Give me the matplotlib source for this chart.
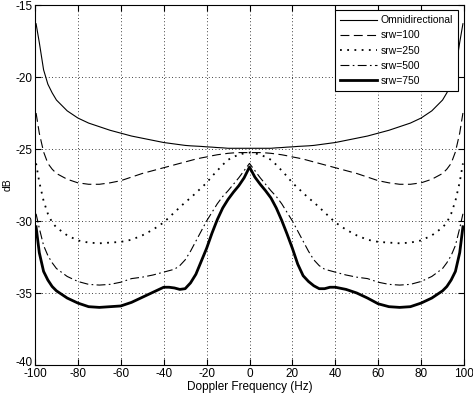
import matplotlib
matplotlib.use("Agg")
import matplotlib.pyplot as plt
import matplotlib.transforms as mtransforms

plt.rcParams['font.family'] = ['Liberation Sans', 'DejaVu Sans']
plt.rcParams['axes.unicode_minus'] = False

freq = [-99.5, -98, -96, -94, -92, -90, -85, -80, -75, -70, -65, -60, -55, -50, -45,
        -40, -37.5, -35, -32.5, -30, -27.5, -25, -22.5, -20, -17.5, -15, -12.5, -10,
        -7.5, -5, -2.5, 0,
        2.5, 5, 7.5, 10, 12.5, 15, 17.5, 20, 22.5, 25, 27.5, 30, 32.5, 35, 37.5, 40,
        45, 50, 55, 60, 65, 70, 75, 80, 85, 90, 92, 94, 96, 98, 99.5]

omni = [-16.3, -17.6, -19.5, -20.5, -21.1, -21.6, -22.35, -22.85, -23.2, -23.45,
        -23.7, -23.9, -24.1, -24.25, -24.4,
        -24.55, -24.6, -24.65, -24.7, -24.75, -24.78, -24.8, -24.82, -24.85, -24.87,
        -24.9, -24.92, -24.95, -24.95, -24.95, -24.95, -24.95,
        -24.95, -24.95, -24.95, -24.95, -24.92, -24.9, -24.87, -24.85, -24.82, -24.8,
        -24.78, -24.75, -24.7, -24.65, -24.6, -24.55,
        -24.4, -24.25, -24.1, -23.9, -23.7, -23.45, -23.2, -22.85, -22.35, -21.6,
        -21.1, -20.5, -19.5, -17.6, -16.3]

srw100 = [-22.5, -23.9, -25.2, -26.0, -26.4, -26.7, -27.1, -27.35, -27.45, -27.45,
          -27.35, -27.2, -26.95, -26.7, -26.5,
          -26.3, -26.2, -26.1, -26.0, -25.9, -25.8, -25.7, -25.62, -25.55, -25.47,
          -25.4, -25.35, -25.3, -25.27, -25.25, -25.25, -25.25,
          -25.25, -25.25, -25.27, -25.3, -25.35, -25.4, -25.47, -25.55, -25.62, -25.7,
          -25.8, -25.9, -26.0, -26.1, -26.2, -26.3,
          -26.5, -26.7, -26.95, -27.2, -27.35, -27.45, -27.45, -27.35, -27.1, -26.7,
          -26.4, -26.0, -25.2, -23.9, -22.5]

srw250 = [-26.0, -27.3, -28.6, -29.5, -30.1, -30.45, -31.0, -31.35, -31.5, -31.55,
          -31.5, -31.45, -31.3, -31.0, -30.6,
          -30.1, -29.75, -29.4, -29.05, -28.7, -28.4, -28.05, -27.7, -27.35, -26.9,
          -26.5, -26.1, -25.75, -25.55, -25.4, -25.3, -25.25,
          -25.3, -25.4, -25.55, -25.75, -26.1, -26.5, -26.9, -27.35, -27.7, -28.05,
          -28.4, -28.7, -29.05, -29.4, -29.75, -30.1,
          -30.6, -31.0, -31.3, -31.45, -31.5, -31.55, -31.5, -31.35, -31.0, -30.45,
          -30.1, -29.5, -28.6, -27.3, -26.0]

srw500 = [-29.5, -30.5, -31.7, -32.4, -32.9, -33.3, -33.85, -34.2, -34.4, -34.45,
          -34.4, -34.25, -34.0, -33.9, -33.75,
          -33.55, -33.45, -33.35, -33.1, -32.7, -32.1, -31.4, -30.7, -30.0, -29.4,
          -28.8, -28.3, -27.9, -27.45, -27.0, -26.5, -26.0,
          -26.5, -27.0, -27.45, -27.9, -28.3, -28.8, -29.4, -30.0, -30.7, -31.4,
          -32.1, -32.7, -33.1, -33.35, -33.45, -33.55,
          -33.75, -33.9, -34.0, -34.25, -34.4, -34.45, -34.4, -34.2, -33.85, -33.3,
          -32.9, -32.4, -31.7, -30.5, -29.5]

srw750 = [-30.4, -32.2, -33.5, -34.1, -34.55, -34.85, -35.35, -35.7, -35.95, -36.0,
          -35.95, -35.9, -35.65, -35.3, -34.95,
          -34.6, -34.6, -34.65, -34.75, -34.7, -34.3, -33.7, -32.8, -31.9, -30.85,
          -29.9, -29.1, -28.5, -28.0, -27.55, -27.0, -26.25,
          -26.95, -27.45, -27.9, -28.4, -29.1, -29.95, -30.9, -31.9, -33.0, -33.8,
          -34.2, -34.5, -34.7, -34.7, -34.6, -34.6,
          -34.75, -35.0, -35.35, -35.75, -35.95, -36.0, -35.95, -35.7, -35.35, -34.85,
          -34.55, -34.1, -33.5, -32.2, -30.4]

labels = ['Omnidirectional', 'srw=100', 'srw=250', 'srw=500', 'srw=750']
xticks = [-100, -80, -60, -40, -20, 0, 20, 40, 60, 80, 100]
yticks = [-40, -35, -30, -25, -20, -15]

fig = plt.figure(figsize=(4.73, 3.93), dpi=100)
ax = fig.add_axes([35 / 473, 28 / 393, 429 / 473, 360 / 393])

ax.plot(freq, omni, color='black', lw=0.8, ls='-', label=labels[0])
ax.plot(freq, srw100, color='black', lw=0.8, ls=(0, (8, 4)), label=labels[1])
ax.plot(freq, srw250, color='black', lw=1.3, ls=(0, (1, 3)), label=labels[2])
ax.plot(freq, srw500, color='black', lw=0.8, ls=(0, (8, 3, 1.5, 3)), label=labels[3])
ax.plot(freq, srw750, color='black', lw=2.0, ls='-', label=labels[4])

ax.set_xlim(-100, 100)
ax.set_ylim(-40, -15)
ax.set_xticks(xticks)
ax.set_yticks(yticks)
ax.set_xticklabels([str(v) for v in xticks])
ax.set_yticklabels([str(v) for v in yticks])
ax.tick_params(direction='in', top=True, right=True, labelsize=8.5, length=4, pad=2)
ax.grid(True, color='black', ls=(0, (1, 3)), lw=0.6)
for sp in ax.spines.values():
    sp.set_linewidth(0.8)
    sp.set_color('black')

# nudge the bottom y tick label up a little so it does not collide with the -100 label
lab0 = ax.get_yticklabels()[0]
lab0.set_transform(lab0.get_transform() +
                   mtransforms.ScaledTranslation(0, 3 / 100, fig.dpi_scale_trans))

ax.set_xlabel('Doppler Frequency (Hz)', fontsize=8.5, labelpad=1)
ax.set_ylabel('dB', fontsize=7.5)
ax.yaxis.set_label_coords(-0.052, 0.5)

leg = ax.legend(loc='upper right', fontsize=7.5, fancybox=False, edgecolor='black',
                framealpha=1, handlelength=3.6, handletextpad=0.3, borderpad=0.5,
                labelspacing=0.5, borderaxespad=0,
                bbox_to_anchor=(0.986, 0.986))
leg.get_frame().set_linewidth(0.8)

fig.savefig('out.png', dpi=100)
